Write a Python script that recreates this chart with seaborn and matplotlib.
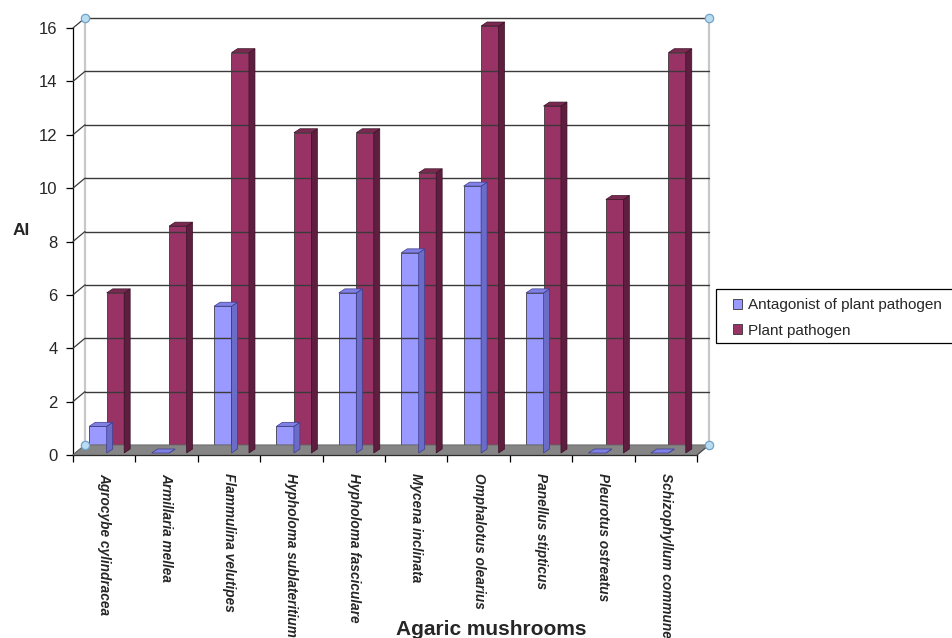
import matplotlib
matplotlib.use("Agg")
import matplotlib.pyplot as plt
from matplotlib.patches import Polygon, Rectangle, Patch
from matplotlib.lines import Line2D
from matplotlib.transforms import IdentityTransform, Affine2D
import seaborn as sns
import pandas as pd

# Allelopathic index (AI) of agaric mushrooms against plant pathogens
species = [
    "Agrocybe cylindracea", "Armillaria mellea", "Flammulina velutipes",
    "Hypholoma sublateritium", "Hypholoma fasciculare", "Mycena inclinata",
    "Omphalotus olearius", "Panellus stipticus", "Pleurotus ostreatus",
    "Schizophyllum commune",
]
antagonist = [1, 0, 5.5, 1, 6, 7.5, 10, 6, 0, 0]
pathogen = [6, 8.5, 15, 12, 12, 10.5, 16, 13, 9.5, 15]
series = ["Antagonist of plant pathogen", "Plant pathogen"]
yticks = [0, 2, 4, 6, 8, 10, 12, 14, 16]

front = {"Antagonist of plant pathogen": "#9999FF", "Plant pathogen": "#993366"}
side = {"Antagonist of plant pathogen": "#6B6BC8", "Plant pathogen": "#5E1E40"}
top = {"Antagonist of plant pathogen": "#8080E6", "Plant pathogen": "#7A2950"}
edge = {"Antagonist of plant pathogen": "#3C3C8C", "Plant pathogen": "#3A1226"}

df = pd.DataFrame({
    "species": species * 2,
    "AI": antagonist + pathogen,
    "type": [series[0]] * len(species) + [series[1]] * len(species),
})

sns.set_theme(style="white")
plt.rcParams["font.family"] = ["Liberation Sans", "DejaVu Sans"]

W, H, DPI = 953, 638, 100
fig = plt.figure(figsize=(W / DPI, H / DPI), dpi=DPI)
ax = fig.add_axes([73 / W, 1 - 455 / H, (697 - 73) / W, (455 - 28) / H])

sns.barplot(data=df, x="species", y="AI", hue="type", order=species,
            hue_order=series, palette=front, width=0.56, saturation=1,
            edgecolor="#222222", linewidth=0.5, legend=False, ax=ax, zorder=3)

ax.set_xlim(-0.5, len(species) - 0.5)
ax.set_ylim(0, 16)
for s in ["top", "right"]:
    ax.spines[s].set_visible(False)
for s in ["left", "bottom"]:
    ax.spines[s].set_color("#000000")
    ax.spines[s].set_linewidth(0.9)
ax.patch.set_alpha(0)

# depth of the back wall and of the bars, in pixels
DX, DY = 12, 10
BX, BY = 6, 4
# bars stand a little inside the floor
SX, SY = 2.5, 2
tr = ax.transData
shift = Affine2D().translate(SX, SY)

def disp(x, y):
    return tr.transform((x, y))

x0, x1 = -0.5, len(species) - 0.5

# floor
f0, f1 = disp(x0, 0), disp(x1, 0)
floor = Polygon([f0, f1, (f1[0] + DX, f1[1] + DY), (f0[0] + DX, f0[1] + DY)],
                closed=True, transform=IdentityTransform(), facecolor="#858585",
                edgecolor="#6A6A6A", lw=0.6, zorder=1)
fig.add_artist(floor)

# back wall gridlines and connectors to the front axis
for v in yticks:
    a, b = disp(x0, v), disp(x1, v)
    fig.add_artist(Line2D([a[0] + DX, b[0] + DX], [a[1] + DY, b[1] + DY],
                          transform=IdentityTransform(), color="#3A3A3A",
                          lw=1.0, zorder=0.5))
    fig.add_artist(Line2D([a[0], a[0] + DX], [a[1], a[1] + DY],
                          transform=IdentityTransform(), color="#3A3A3A",
                          lw=0.9, zorder=0.5))
# back wall edges
tl, bl = disp(x0, 16), disp(x0, 0)
tr_, br = disp(x1, 16), disp(x1, 0)
for p, q in [(tl, bl), (tr_, br)]:
    fig.add_artist(Line2D([p[0] + DX, q[0] + DX], [p[1] + DY, q[1] + DY],
                          transform=IdentityTransform(), color="#C8C8C8",
                          lw=1.6, zorder=0.4))
fig.add_artist(Line2D([br[0], br[0] + DX], [br[1], br[1] + DY],
                      transform=IdentityTransform(), color="#505050",
                      lw=0.9, zorder=1.2))

# selection handles at the wall corners
for p in [tl, tr_, bl, br]:
    fig.add_artist(Line2D([p[0] + DX], [p[1] + DY], transform=IdentityTransform(),
                          marker="o", ms=6, mfc="#B9DCF2", mec="#6FA3C7",
                          mew=0.9, zorder=6))

# front faces moved into the floor, plus side and top faces of each bar
for bar in list(ax.patches):
    c = bar.get_facecolor()
    key = series[0] if c[2] > 0.8 else series[1]
    bar.set_transform(tr + shift)
    bar.set_clip_on(False)
    bx, bw, bh = bar.get_x(), bar.get_width(), bar.get_height()
    p0, p1 = disp(bx, 0) + (SX, SY), disp(bx + bw, 0) + (SX, SY)
    q0, q1 = disp(bx, bh) + (SX, SY), disp(bx + bw, bh) + (SX, SY)
    sidef = Polygon([p1, q1, (q1[0] + BX, q1[1] + BY), (p1[0] + BX, p1[1] + BY)],
                    closed=True, transform=IdentityTransform(),
                    facecolor=side[key], edgecolor=edge[key], lw=0.5, zorder=3)
    topf = Polygon([q0, q1, (q1[0] + BX, q1[1] + BY), (q0[0] + BX, q0[1] + BY)],
                   closed=True, transform=IdentityTransform(),
                   facecolor=top[key], edgecolor=edge[key], lw=0.5, zorder=3.1)
    fig.add_artist(sidef)
    fig.add_artist(topf)

# axes ticks and labels
ax.set_yticks(yticks)
ax.set_yticklabels([str(v) for v in yticks], fontsize=12)
ax.tick_params(axis="y", length=5, width=0.9, color="#000000", direction="out",
               left=True, pad=6)
ax.set_xticks(range(len(species)))
ax.set_xticklabels(species, rotation=-90, fontsize=9.8, fontweight="bold",
                   fontstyle="italic", ha="center", va="top")
ax.set_xticks([i - 0.5 for i in range(len(species) + 1)], minor=True)
ax.tick_params(axis="x", which="major", length=0, pad=13)
ax.tick_params(axis="x", which="minor", length=5, width=0.9, color="#000000",
               direction="out", bottom=True)
for lab in ax.get_xticklabels():
    lab.set_x(lab.get_position()[0])
ax.set_xlabel("")
ax.set_ylabel("")

fig.text(13 / W, 1 - 231 / H, "AI", fontsize=12.5, fontweight="bold",
         ha="left", va="center")
fig.text(491 / W, 1 - 635 / H, "Agaric mushrooms", fontsize=15,
         fontweight="bold", ha="center", va="baseline")

# legend
fig.add_artist(Rectangle((716 / W, 1 - 343 / H), 260 / W, 54 / H,
                         transform=fig.transFigure, facecolor="white",
                         edgecolor="#000000", lw=0.9, zorder=5))
handles = [Patch(facecolor=front[s], edgecolor="#333333", lw=0.6) for s in series]
leg = fig.legend(handles, series, loc="upper left",
                 bbox_to_anchor=(727 / W, 1 - 292 / H), frameon=False,
                 fontsize=11, handlelength=0.6, handleheight=0.6,
                 handletextpad=0.35, labelspacing=0.75, borderaxespad=0)
leg.set_zorder(6)

fig.savefig("out.png", dpi=DPI)
